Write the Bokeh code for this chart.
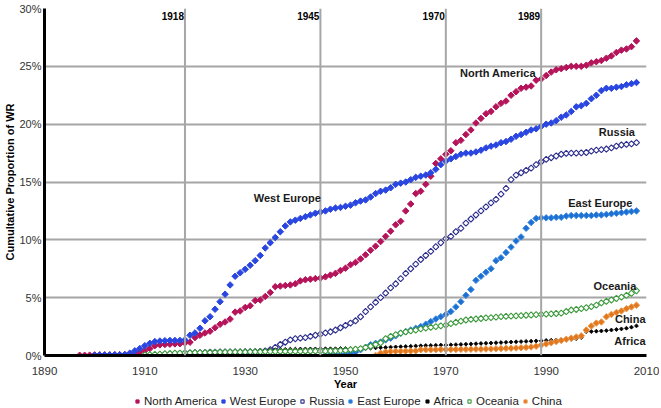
import math
from bokeh.plotting import figure
from bokeh.layouts import column
from bokeh.models import (Range1d, FixedTicker, PrintfTickFormatter, Span, Label,
                          Legend, LegendItem)
from bokeh.embed import file_html
from bokeh.resources import INLINE

# ---------------- data (cumulative proportion of WR, %) ----------------
north_america_start = 1897
north_america = [0.02, 0.02, 0.03, 0.05, 0.05, 0.05, 0.05, 0.06, 0.06, 0.08,
                 0.12, 0.2, 0.3, 0.42, 0.6, 0.85, 0.92, 0.95, 0.98, 1.0,
                 1.02, 1.08, 1.15, 1.55, 1.75, 1.95, 2.1, 2.4, 2.7, 2.9,
                 3.15, 3.75, 3.85, 4.15, 4.3, 4.75, 4.8, 5.1, 5.45, 5.95,
                 6.0, 6.05, 6.1, 6.2, 6.45, 6.55, 6.6, 6.65, 6.7, 6.8,
                 6.95, 7.1, 7.35, 7.55, 7.85, 8.05, 8.35, 8.7, 9.1, 9.45,
                 9.85, 10.3, 10.75, 11.3, 11.6, 12.5, 13.1, 14.0, 14.2, 14.8,
                 15.5, 16.6, 17.0, 17.4, 17.7, 18.4, 18.6, 19.1, 19.5, 20.1,
                 20.5, 20.9, 21.1, 21.5, 21.8, 22.0, 22.5, 22.8, 23.1, 23.2,
                 23.3, 23.8, 23.9, 24.2, 24.5, 24.7, 24.8, 24.9, 25.0, 25.0,
                 25.0, 25.1, 25.3, 25.4, 25.5, 25.7, 25.9, 26.2, 26.4, 26.5,
                 26.7, 27.2]

west_europe_start = 1900
west_europe = [0.03, 0.05, 0.05, 0.05, 0.06, 0.06, 0.08, 0.2, 0.4, 0.6,
               0.85, 1.05, 1.2, 1.25, 1.28, 1.3, 1.3, 1.3, 1.35, 1.75,
               1.95, 2.35, 3.0, 3.35, 4.0, 4.65, 5.3, 6.1, 6.85, 7.15,
               7.45, 7.8, 8.2, 8.65, 9.3, 9.75, 10.2, 10.7, 11.2, 11.55,
               11.7, 11.85, 12.0, 12.15, 12.3, 12.4, 12.5, 12.65, 12.75, 12.8,
               12.9, 13.0, 13.2, 13.35, 13.45, 13.7, 14.0, 14.2, 14.3, 14.5,
               14.8, 14.9, 15.0, 15.2, 15.4, 15.5, 15.6, 15.8, 16.1, 16.5,
               16.8, 17.0, 17.2, 17.4, 17.5, 17.5, 17.6, 17.75, 17.95, 18.1,
               18.2, 18.4, 18.5, 18.7, 18.95, 19.1, 19.3, 19.5, 19.6, 19.8,
               20.0, 20.1, 20.3, 20.6, 20.8, 21.1, 21.5, 21.6, 21.8, 22.2,
               22.5, 22.9, 23.1, 23.1, 23.2, 23.25, 23.4, 23.5, 23.6]

russia_start = 1913
russia = [0.05, 0.1, 0.12, 0.15, 0.18, 0.2, 0.22, 0.25, 0.25, 0.27,
          0.28, 0.28, 0.3, 0.3, 0.3, 0.3, 0.3, 0.32, 0.32, 0.33,
          0.35, 0.4, 0.5, 0.7, 0.95, 1.15, 1.35, 1.45, 1.5, 1.55,
          1.65, 1.75, 1.85, 1.95, 2.05, 2.2, 2.4, 2.6, 2.8, 3.0,
          3.35, 3.8, 4.2, 4.6, 5.0, 5.4, 5.85, 6.2, 6.65, 7.1,
          7.5, 7.9, 8.3, 8.65, 9.0, 9.4, 9.75, 10.1, 10.3, 10.7,
          11.0, 11.45, 11.8, 12.15, 12.5, 12.85, 13.2, 13.5, 13.95, 14.45,
          15.2, 15.6, 15.8, 16.0, 16.2, 16.5, 16.75, 16.95, 17.1, 17.25,
          17.4, 17.47, 17.5, 17.5, 17.52, 17.55, 17.67, 17.75, 17.8, 17.85,
          17.95, 18.1, 18.2, 18.25, 18.3, 18.4]

east_europe_start = 1946
east_europe = [0.02, 0.05, 0.07, 0.08, 0.12, 0.2, 0.3, 0.5, 0.7, 0.93,
               1.05, 1.16, 1.35, 1.5, 1.7, 1.93, 2.05, 2.2, 2.35, 2.5,
               2.7, 2.93, 3.15, 3.36, 3.55, 3.8, 4.2, 4.65, 5.2, 5.7,
               6.5, 6.85, 7.2, 7.5, 8.2, 8.45, 8.9, 9.37, 9.9, 10.25,
               11.0, 11.5, 11.85, 11.9, 11.9, 11.9, 11.95, 11.95, 12.05, 12.1,
               12.1, 12.1, 12.1, 12.1, 12.15, 12.15, 12.2, 12.25, 12.3, 12.35,
               12.4, 12.45, 12.5]

africa_start = 1918
africa = [0.2, 0.22, 0.25, 0.25, 0.27, 0.28, 0.3, 0.3, 0.32, 0.33,
          0.35, 0.35, 0.37, 0.38, 0.4, 0.42, 0.45, 0.48, 0.5, 0.52,
          0.53, 0.55, 0.55, 0.56, 0.56, 0.57, 0.57, 0.58, 0.58, 0.58,
          0.58, 0.6, 0.6, 0.6, 0.6, 0.6, 0.62, 0.64, 0.66, 0.68,
          0.7, 0.72, 0.74, 0.76, 0.78, 0.8, 0.82, 0.84, 0.86, 0.87,
          0.88, 0.9, 0.9, 0.92, 0.94, 0.96, 0.98, 1.0, 1.02, 1.04,
          1.06, 1.08, 1.1, 1.12, 1.14, 1.16, 1.18, 1.2, 1.22, 1.24,
          1.26, 1.27, 1.3, 1.32, 1.34, 1.36, 1.38, 1.4, 1.45, 1.55,
          2.05, 2.07, 2.1, 2.12, 2.15, 2.2, 2.25, 2.3, 2.36, 2.45,
          2.56]

oceania_start = 1910
oceania = [0.05, 0.08, 0.1, 0.12, 0.15, 0.17, 0.2, 0.2, 0.22, 0.22,
           0.24, 0.25, 0.25, 0.26, 0.27, 0.28, 0.28, 0.29, 0.3, 0.3,
           0.3, 0.31, 0.32, 0.32, 0.33, 0.34, 0.34, 0.35, 0.35, 0.35,
           0.36, 0.36, 0.37, 0.37, 0.38, 0.38, 0.38, 0.39, 0.4, 0.42,
           0.45, 0.5, 0.55, 0.6, 0.7, 0.8, 0.95, 1.1, 1.45, 1.65,
           1.8, 1.93, 2.05, 2.13, 2.2, 2.3, 2.37, 2.44, 2.5, 2.56,
           2.62, 2.75, 2.87, 2.97, 3.07, 3.12, 3.16, 3.2, 3.25, 3.28,
           3.32, 3.36, 3.38, 3.4, 3.43, 3.45, 3.48, 3.5, 3.53, 3.56,
           3.58, 3.6, 3.63, 3.66, 3.8, 3.93, 3.98, 4.05, 4.13, 4.22,
           4.36, 4.55, 4.68, 4.8, 4.93, 5.05, 5.2, 5.38, 5.6]

china_start = 1956
china = [0.0, 0.2, 0.3, 0.35, 0.36, 0.37, 0.38, 0.39, 0.4, 0.5,
         0.5, 0.5, 0.5, 0.52, 0.52, 0.52, 0.52, 0.53, 0.53, 0.54,
         0.55, 0.55, 0.56, 0.57, 0.58, 0.6, 0.62, 0.63, 0.65, 0.67,
         0.7, 0.74, 0.8, 0.9, 1.0, 1.1, 1.2, 1.3, 1.4, 1.5,
         1.6, 1.7, 2.2, 2.55, 2.8, 2.9, 3.35, 3.55, 3.72, 3.85,
         4.05, 4.2, 4.35]

event_years = [1918, 1945, 1970, 1989]
x_ticks = [1890, 1910, 1930, 1950, 1970, 1990, 2010]
y_ticks = [0, 5, 10, 15, 20, 25, 30]

# ---------------- figure ----------------
FONT = "Liberation Sans"
GRID = "#a6a6a6"

p = figure(frame_width=602, frame_height=347, output_backend="svg", toolbar_location=None,
           x_range=Range1d(1890, 2010), y_range=Range1d(0, 30),
           min_border_left=0, min_border_right=14, min_border_top=8,
           min_border_bottom=0)
p.outline_line_color = None
p.background_fill_color = "white"
p.border_fill_color = "white"

p.xgrid.visible = False
p.ygrid.ticker = FixedTicker(ticks=y_ticks)
p.ygrid.grid_line_color = GRID
p.ygrid.grid_line_width = 2

for ax in (p.xaxis[0], p.yaxis[0]):
    ax.axis_line_color = "black"
    ax.axis_line_width = 3
    ax.major_tick_line_color = None
    ax.minor_tick_line_color = None
    ax.major_tick_out = 0
    ax.major_tick_in = 0
    ax.major_label_text_font = FONT
    ax.major_label_text_font_size = "11.5px"
    ax.major_label_text_color = "#333333"
    ax.axis_label_text_font = FONT
    ax.axis_label_text_font_style = "bold"
    ax.axis_label_text_font_size = "11px"
    ax.axis_label_text_color = "black"

p.yaxis.major_label_text_font_size = "11px"

p.xaxis.ticker = FixedTicker(ticks=x_ticks)
p.xaxis.axis_label = "Year"
p.xaxis.major_label_standoff = 11
p.xaxis.axis_label_standoff = 0

p.yaxis.ticker = FixedTicker(ticks=y_ticks)
p.yaxis.formatter = PrintfTickFormatter(format="%d%%")
p.yaxis.axis_label = "Cumultative Proportion of WR"
p.yaxis.major_label_standoff = 3
p.yaxis.axis_label_standoff = 0

for yr in event_years:
    p.add_layout(Span(location=yr, dimension="height", line_color=GRID, line_width=2))
    p.add_layout(Label(x=yr, y=30, y_offset=-7, text=str(yr), x_offset=-1,
                       text_align="right", text_baseline="middle", text_font=FONT,
                       text_font_style="bold", text_font_size="10px", text_color="black"))

series = [
    ("North America", north_america_start, north_america, "#b5145a", "#b5145a", 4.6, 1.0),
    ("West Europe", west_europe_start, west_europe, "#2a46e0", "#2a46e0", 4.6, 1.0),
    ("Russia", russia_start, russia, "white", "#2b2c8c", 4.3, 1.1),
    ("East Europe", east_europe_start, east_europe, "#1e6fd2", "#3a8be0", 4.6, 1.0),
    ("Africa", africa_start, africa, "black", "black", 2.8, 0.8),
    ("Oceania", oceania_start, oceania, "white", "#3c9a3c", 4.3, 1.1),
    ("China", china_start, china, "#e2781e", "#ec9a50", 4.6, 1.0),
]

# legend-only strip below the chart
lg = figure(width=661, height=15, output_backend="svg", toolbar_location=None,
            x_range=Range1d(0, 1), y_range=Range1d(0, 1), min_border=0,
            min_border_left=44, x_axis_type=None, y_axis_type=None)
lg.outline_line_color = None
lg.xgrid.visible = False
lg.ygrid.visible = False

items = []
for name, start, vals, fill, line, size, lw in series:
    xs = list(range(start, start + len(vals)))
    p.scatter(xs, vals, marker="square", angle=math.pi / 4, size=size,
              fill_color=fill, line_color=line, line_width=lw)
    # off-screen point: only its legend glyph is seen
    r = lg.scatter([-5], [-5], marker="square", angle=math.pi / 4, size=size,
                   fill_color=fill, line_color=line, line_width=lw)
    items.append(LegendItem(label=name, renderers=[r]))

legend = Legend(items=items, orientation="horizontal", location=(89, 0),
                label_text_font=FONT, label_text_font_size="11.5px",
                label_text_color="#222222", glyph_width=8, glyph_height=8,
                label_standoff=3, spacing=2, padding=1, margin=0,
                label_height=12, border_line_color=None, background_fill_alpha=0)
lg.add_layout(legend, "center")

labels = [
    ("North America", 1980.4, 24.4, "center", 0),
    ("West Europe", 1938.4, 13.6, "center", 0),
    ("Russia", 2004.1, 19.3, "center", 0),
    ("East Europe", 2000.8, 13.2, "center", 0),
    ("Oceania", 2003.7, 6.05, "center", 0),
    ("China", 2010, 3.13, "right", -1),
    ("Africa", 2010, 1.25, "right", -1),
]
for text, lx, ly, align, dx in labels:
    p.add_layout(Label(x=lx, y=ly, x_offset=dx, text=text, text_align=align,
                       text_baseline="middle", text_font=FONT, text_font_style="bold",
                       text_font_size="11px", text_color="#1a1a1a"))

open("out.html", "w").write(file_html(column(p, lg, spacing=0), INLINE))
